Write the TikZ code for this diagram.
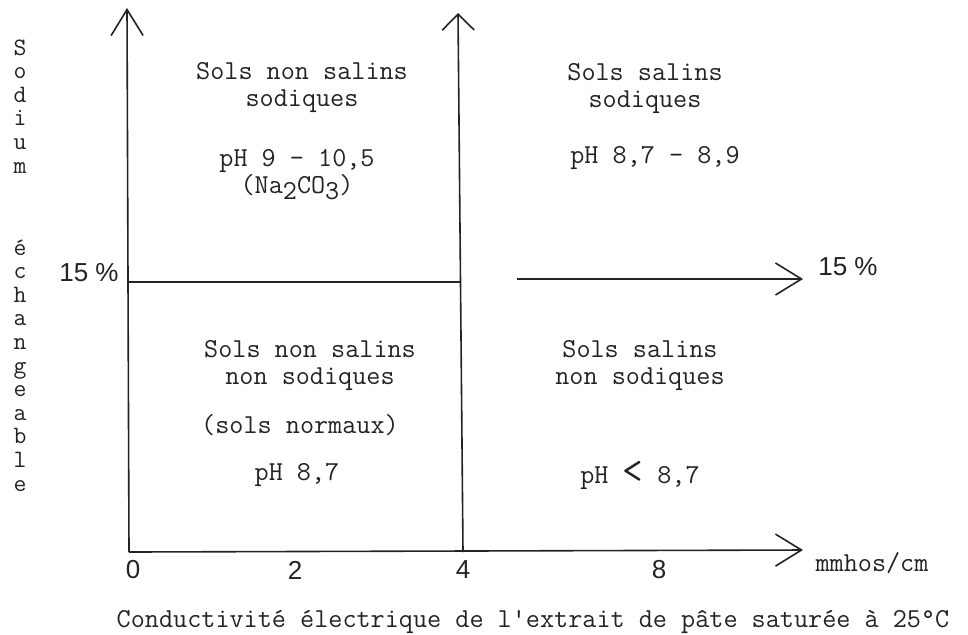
\documentclass[tikz,border=0pt]{standalone}
\usepackage{fontspec}
\setsansfont{Liberation Sans}
\usetikzlibrary{arrows.meta,positioning}
\definecolor{cink}{RGB}{35,35,35}

\begin{document}
\begin{tikzpicture}[x=0.5pt,y=-0.5pt,
  axis/.style={line width=0.8pt,draw=cink,-{Straight Barb[length=13pt,width=16pt]}},
  limit/.style={line width=0.8pt,draw=cink},
  txt/.style={inner sep=0pt,font=\ttfamily\fontsize{13.7}{13.5}\selectfont,text=cink,align=center},
  letter/.style={txt,font=\ttfamily\fontsize{12.5}{12.5}\selectfont,text height=1.4ex,text depth=0.2ex},
  hand/.style={inner sep=0pt,font=\sffamily\fontsize{13}{15}\selectfont,text=cink}]
\useasboundingbox (0,0) rectangle (968,634);

% ===== axes and limits =====
\coordinate (O) at (129,552);
\coordinate (ytop) at (127,8);
\coordinate (xend) at (803,550);
\coordinate (m0) at (463,552);
\coordinate (mtop) at (458,13);
\coordinate (l15) at (129,282);
\coordinate (m15) at (461,282);
\coordinate (r15a) at (517,279);
\coordinate (r15b) at (803,279);
\draw[axis] (O) -- (ytop);
\draw[axis] (O) -- (xend);
\draw[axis,-{Straight Barb[length=8pt,width=16pt]}] (m0) -- (mtop);
\draw[limit] (l15) -- (m15);
\draw[axis] (r15a) -- (r15b);

% ===== axis labels =====
\foreach \ch [count=\i from 0] in {S,o,d,i,u,m}
  \node[letter] (sod\i) at (20,{50+23.6*\i}) {\ch};
\foreach \ch [count=\i from 0] in {é,c,h,a,n,g,e,a,b,l,e}
  \node[letter] (ech\i) at (20,{250+23.6*\i}) {\ch};
\node[hand] (p15l) at (89,273) {15 \%};
\node[hand] (p15r) at (848,267) {15 \%};
\foreach \v/\x in {0/133,2/295,4/463,8/659}
  \node[hand] (t\v) at (\x,570) {\v};
\node[txt] (unit) at (872,563) {mmhos/cm};
\node[txt] (caption) at (533,622) {Conductivité électrique de l'extrait de pâte saturée à 25°C};

% ===== soil classes =====
\node[txt] (nsS) at (302,87) {Sols non salins\\sodiques};
\node[txt] (nsSph) at (297,175) {pH 9 - 10,5\\(Na\raisebox{-0.5ex}{2}CO\raisebox{-0.5ex}{3})};
\node[txt] (sS) at (645,88) {Sols salins\\sodiques};
\node[txt] (sSph) at (655,158) {pH 8,7 - 8,9};
\node[txt] (nsN) at (310,365) {Sols non salins\\non sodiques};
\node[txt] (nsNn) at (300,425) {(sols normaux)};
\node[txt] (nsNph) at (297,475) {pH 8,7};
\node[txt] (sN) at (640,365) {Sols salins\\non sodiques};
\node[txt] (sNph) at (640,475) {pH {\fontsize{20}{20}\selectfont<} 8,7};
\end{tikzpicture}
\end{document}
